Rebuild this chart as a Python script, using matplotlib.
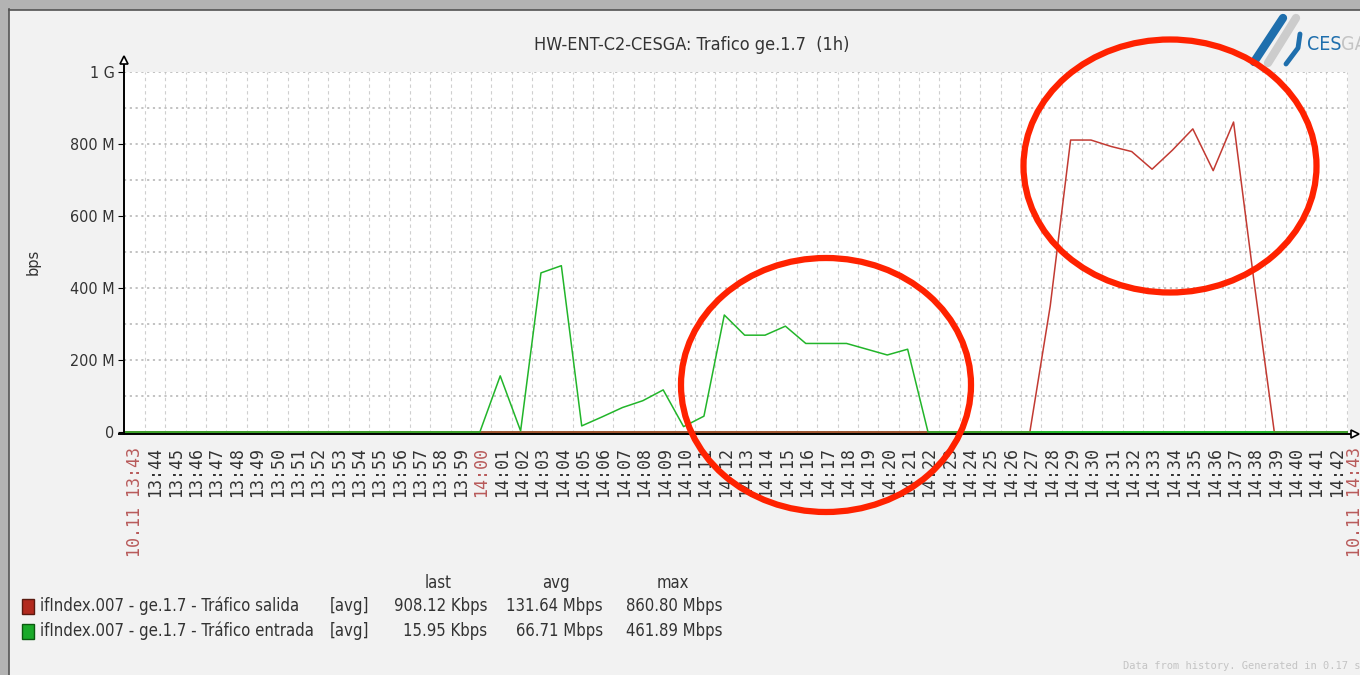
import numpy as np
import matplotlib
matplotlib.use('Agg')
import matplotlib.pyplot as plt
from matplotlib import font_manager
from matplotlib.patches import Ellipse, Rectangle
from matplotlib.lines import Line2D

W, H = 1360, 675

TITLE = 'HW-ENT-C2-CESGA: Trafico ge.1.7  (1h)'
DATE = '10.11'
START_HOUR, START_MIN = 13, 43
N_LABELS = 60                      # 13:43 .. 14:42
SAMPLE_OFFSET = 0.93               # sample time inside each minute
FIRST_SAMPLE = -2                  # minute index of first sample

# Mbps, one sample per minute starting at FIRST_SAMPLE
salida = [0] * 46 + [350, 811, 811, 793, 779, 730, 783, 842, 726, 861, 420] + [0] * 5
entrada = ([0] * 19 + [156, 3, 442, 462, 17, 42, 68, 87, 117, 15, 44, 325, 269, 269,
                       294, 246, 246, 246, 230, 214, 230] + [0] * 22)

Y_TICKS = [0, 200, 400, 600, 800, 1000]
Y_TICK_LABELS = ['0', '200 M', '400 M', '600 M', '800 M', '1 G']

LEGEND_NAMES = ['ifIndex.007 - ge.1.7 - Tráfico salida', 'ifIndex.007 - ge.1.7 - Tráfico entrada']
LEGEND_LAST = ['908.12 Kbps', '15.95 Kbps']
LEGEND_AVG = ['131.64 Mbps', '66.71 Mbps']
LEGEND_MAX = ['860.80 Mbps', '461.89 Mbps']

LINE_COLORS = ['#c23a32', '#22b52a']
BOX_COLORS = ['#b22a1e', '#1aaa2a']
BOX_EDGES = ['#5a1a10', '#0b5a10']
BG = '#f2f2f2'
TXT = '#333333'
RED_LBL = '#b85a5a'


def pick_condensed():
    names = set(f.name for f in font_manager.fontManager.ttflist)
    for n in ['DejaVu Sans Condensed', 'Liberation Sans Narrow']:
        if n in names:
            return dict(family=n)
    return dict(family='DejaVu Sans', stretch='condensed')


COND = pick_condensed()


def fx(x):
    return x / W


def fy(y):
    return 1 - y / H


fig = plt.figure(figsize=(W / 100, H / 100), dpi=100, facecolor=BG)

# outer frame
fig.patches.append(Rectangle((0, 0), fx(8), 1, transform=fig.transFigure, color='#b3b3b3', zorder=0))
fig.patches.append(Rectangle((0, fy(9)), 1, 1 - fy(9), transform=fig.transFigure, color='#b3b3b3', zorder=0))
fig.lines.append(Line2D([fx(8.5), fx(8.5)], [0, fy(9)], transform=fig.transFigure, color='#555555', lw=1.2))
fig.lines.append(Line2D([fx(8.5), 1], [fy(9.5), fy(9.5)], transform=fig.transFigure, color='#555555', lw=1.2))

# plot area
left, right, top, bottom = 124, 1348, 72, 434
ax = fig.add_axes([fx(left), fy(bottom), fx(right - left), (bottom - top) / H])
ax.set_facecolor('white')

t = np.arange(len(salida)) + FIRST_SAMPLE + SAMPLE_OFFSET
px_per_min = 20.37
ax.set_xlim(-11 / px_per_min, (right - left - 11) / px_per_min)
ax.set_ylim(-5.5, 1000)

ax.plot(t, salida, color=LINE_COLORS[0], lw=1.1, zorder=3)
ax.plot(t, entrada, color=LINE_COLORS[1], lw=1.1, zorder=4)
ax.plot(t, np.array(entrada) * 0, color=LINE_COLORS[1], lw=2, zorder=2)

# grid
ax.set_xticks(np.arange(N_LABELS) + 0.49, minor=True)
ax.set_xticks([])
ax.set_yticks(Y_TICKS)
ax.set_yticklabels(Y_TICK_LABELS, color=TXT, fontsize=11.5, **COND)
ax.set_yticks(np.arange(100, 1001, 100), minor=True)
ax.grid(True, which='minor', axis='x', color='#cfcfcf', linestyle=(0, (3, 3)), lw=0.8)
ax.grid(True, which='both', axis='y', color='#bdbdbd', linestyle=(0, (1.2, 2)), lw=1.3)
ax.tick_params(axis='y', which='major', length=4, color='black', pad=3)
ax.tick_params(axis='y', which='minor', length=0)
ax.tick_params(axis='x', which='minor', length=3, direction='in', color='#cccccc')
for s in ax.spines.values():
    s.set_visible(False)

# axes with arrows
ax.plot([0, 0], [0, 1 + 12 / 362], transform=ax.transAxes, color='black', lw=1.4, clip_on=False, zorder=6)
ax.plot([-5 / 1224, 1 + 7 / 1224], [0, 0], transform=ax.transAxes, color='black', lw=1.4, clip_on=False, zorder=6)
ax.plot([0], [1 + 12 / 362], transform=ax.transAxes, marker='^', ms=6, mfc='white', mec='black',
        mew=1.2, clip_on=False, zorder=7)
ax.plot([1 + 7 / 1224], [0], transform=ax.transAxes, marker='>', ms=6, mfc='white', mec='black',
        mew=1.2, clip_on=False, zorder=7)

# time labels
lbl_kw = dict(xycoords=('data', 'axes fraction'), xytext=(0, -13), textcoords='offset pixels',
              rotation=90, ha='center', va='top', family='DejaVu Sans Mono', fontsize=12,
              annotation_clip=False)
for k in range(N_LABELS):
    m = START_HOUR * 60 + START_MIN + k
    lbl = '%02d:%02d' % (m // 60, m % 60)
    col = TXT
    if k == 0:
        lbl = DATE + ' ' + lbl
        col = RED_LBL
    elif m % 60 == 0:
        col = RED_LBL
    ax.annotate(lbl, xy=(k, 0), color=col, **lbl_kw)
m_end = START_HOUR * 60 + START_MIN + N_LABELS
ax.annotate(DATE + ' %02d:%02d' % (m_end // 60, m_end % 60), xy=(N_LABELS - 0.1, 0),
            color=RED_LBL, **lbl_kw)

fig.text(fx(692), fy(45), TITLE, ha='center', va='center', fontsize=13, color=TXT, **COND)
fig.text(fx(33), fy(262), 'bps', ha='center', va='center', rotation=90, fontsize=10.5, color=TXT)

# legend
for x, h in zip([438, 556, 673], ['last', 'avg', 'max']):
    fig.text(fx(x), fy(583), h, ha='center', va='center', fontsize=12, color=TXT, **COND)
for i in range(2):
    y = 606 + i * 25
    fig.patches.append(Rectangle((fx(22), fy(y + 8)), fx(12), 15 / H, transform=fig.transFigure,
                                 facecolor=BOX_COLORS[i], edgecolor=BOX_EDGES[i], lw=1))
    fig.text(fx(40), fy(y), LEGEND_NAMES[i], ha='left', va='center', fontsize=12, color=TXT, **COND)
    fig.text(fx(330), fy(y), '[avg]', ha='left', va='center', fontsize=12, color=TXT, **COND)
    fig.text(fx(487), fy(y), LEGEND_LAST[i], ha='right', va='center', fontsize=12, color=TXT, **COND)
    fig.text(fx(603), fy(y), LEGEND_AVG[i], ha='right', va='center', fontsize=12, color=TXT, **COND)
    fig.text(fx(723), fy(y), LEGEND_MAX[i], ha='right', va='center', fontsize=12, color=TXT, **COND)

fig.text(fx(1123), fy(666), 'Data from history. Generated in 0.17 sec', ha='left', va='center',
         fontsize=7.5, family='DejaVu Sans Mono', color='#c4c4c4')

# logo
fig.lines.append(Line2D([fx(1254), fx(1283)], [fy(62), fy(18)], transform=fig.transFigure,
                        color='#1f6fad', lw=6, solid_capstyle='round'))
fig.lines.append(Line2D([fx(1268), fx(1296)], [fy(63), fy(18)], transform=fig.transFigure,
                        color='#cccccc', lw=6, solid_capstyle='round'))
fig.lines.append(Line2D([fx(1286), fx(1298), fx(1300)], [fy(64), fy(48), fy(34)], transform=fig.transFigure,
                        color='#1f6fad', lw=3.5, solid_capstyle='round'))
ces = fig.text(fx(1307), fy(44), 'CES', ha='left', va='center', fontsize=14, color='#1f6fad', **COND)
fig.add_artist(matplotlib.text.Annotation('GA', xy=(1, 0.5), xycoords=ces, ha='left', va='center',
                                          fontsize=14, color='#c4c4c4', **COND))

# hand drawn highlight ellipses
for cx, cy, w, h in [(826, 385, 290, 254), (1170, 166, 293, 253)]:
    fig.patches.append(Ellipse((fx(cx), fy(cy)), w / W, h / H, transform=fig.transFigure,
                               fill=False, edgecolor='#ff2200', lw=4.5, zorder=10))

fig.savefig('out.png', dpi=100, facecolor=BG)
